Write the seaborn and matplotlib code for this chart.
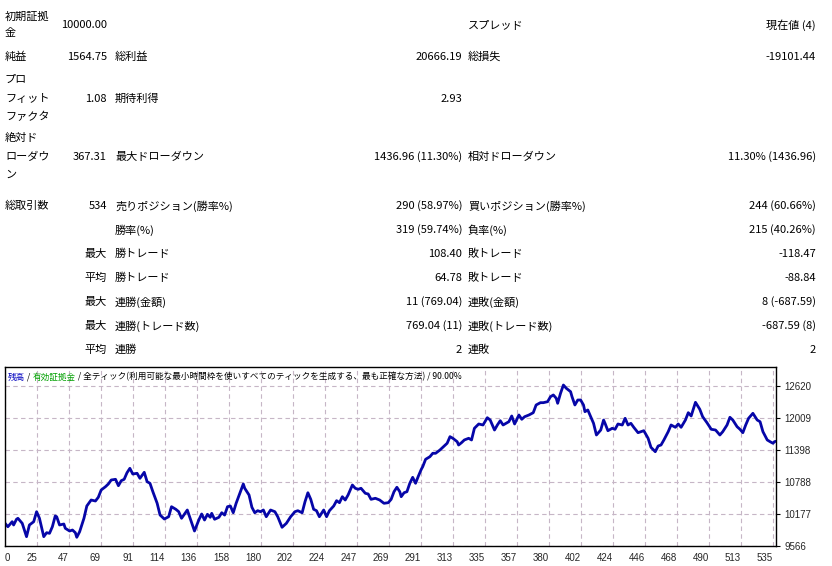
import numpy as np
import pandas as pd
import matplotlib
matplotlib.use('Agg')
import matplotlib.pyplot as plt
import seaborn as sns

sns.set_style('white')
plt.rcParams['font.family'] = ['Noto Sans CJK JP', 'DejaVu Sans']

W, H = 832, 566

# balance curve
trade_no = [0, 2, 5, 6, 8, 9, 12, 15, 17, 20, 22, 24, 27, 29, 31, 33, 35, 36, 38, 41,
            42, 45, 47, 49, 50, 52, 55, 57, 60, 63, 65, 67, 70, 72, 74, 77, 79, 81, 83, 85,
            87, 89, 92, 94, 97, 99, 101, 103, 106, 108, 111, 114, 116, 119, 121, 123, 127, 129, 132, 135,
            137, 139, 141, 143, 144, 146, 149, 151, 153, 155, 157, 159, 161, 164, 166, 167, 170, 172, 174, 176,
            178, 180, 182, 185, 188, 190, 193, 196, 199, 202, 204, 207, 209, 211, 213, 215, 217, 219, 222, 224,
            226, 229, 231, 233, 235, 237, 239, 242, 244, 246, 248, 251, 253, 255, 258, 261, 264, 267, 269, 271,
            273, 275, 276, 278, 280, 282, 284, 286, 288, 290, 291, 293, 296, 298, 300, 303, 305, 308, 310, 312,
            315, 316, 318, 320, 323, 325, 327, 330, 333, 336, 338, 341, 343, 345, 347, 349, 351, 353, 355, 358,
            360, 362, 365, 368, 370, 373, 375, 378, 380, 382, 384, 385, 387, 389, 391, 394, 395, 397, 399, 401,
            403, 404, 406, 408,
            410, 412, 415, 417, 418, 420, 423, 425, 427, 430, 432, 434, 436, 438, 441, 443, 445, 448, 450, 453,
            455, 457, 459, 462, 464, 467, 469, 471, 474, 476, 478, 481, 484, 486, 489, 492, 495, 498, 500, 503,
            505, 507, 510, 512, 514, 516, 518, 521, 524, 526, 528, 531, 533, 535, 536, 537]
balance = [10000, 9934, 10030, 9967, 10076, 10095, 9999, 9744, 9967, 10030, 10221, 10095, 9744, 9820, 9808, 9934, 10139, 10125, 9967, 9986,
           9904, 9852, 9871, 9820, 9732, 9839, 10095, 10330, 10444, 10425, 10496, 10635, 10698, 10750, 10826, 10839, 10717, 10813, 10839, 10965,
           11049, 10940, 10954, 10858, 10973, 10793, 10763, 10603, 10381, 10158, 10081, 10125, 10316, 10267, 10221, 10095, 10253, 10095, 9852, 10062,
           10177, 10062, 10171, 10114, 10190, 10076, 10114, 10201, 10157, 10316, 10330, 10201, 10381, 10603, 10750, 10668, 10540, 10305, 10201, 10240,
           10221, 10253, 10125, 10253, 10221, 10125, 9923, 9999, 10125, 10221, 10240, 10201, 10412, 10583, 10457, 10267, 10240, 10125, 10253, 10125,
           10240, 10330, 10431, 10393, 10507, 10444, 10540, 10730, 10668, 10648, 10668, 10572, 10559, 10457, 10477, 10444, 10381, 10393, 10457, 10603,
           10687, 10603, 10507, 10583, 10603, 10763, 10877, 10763, 10902, 11030, 11080, 11221, 11271, 11336, 11336, 11399, 11451, 11527, 11653, 11622,
           11557, 11494, 11538, 11590, 11622, 11590, 11813, 11895, 11876, 12015, 11971, 11780, 11876, 11958, 11876, 11908, 11939, 12048, 11895, 12067,
           11985, 12034, 12067, 12111, 12258, 12302, 12302, 12321, 12416, 12449, 12386, 12290, 12481, 12639, 12577, 12512, 12416, 12258, 12353, 12353,
           12258, 12130, 12162, 12034,
           11908, 11685, 11780, 11971, 11908, 11767, 11813, 11794, 11895, 11876, 12004, 11876, 11908, 11832, 11729, 11748, 11767, 11622, 11450, 11366,
           11475, 11494, 11590, 11748, 11876, 11832, 11895, 11832, 11971, 12111, 12048, 12309, 12176, 12034, 11920, 11794, 11780, 11685, 11748, 11876,
           12023, 11971, 11843, 11794, 11729, 11876, 12004, 12099, 11971, 11939, 11748, 11590, 11557, 11527, 11557, 11565]

x_labels = ['0', '25', '47', '69', '91', '114', '136', '158', '180', '202', '224', '247', '269',
            '291', '313', '335', '357', '380', '402', '424', '446', '468', '490', '513', '535']
y_ticks = [9566, 10177, 10788, 11398, 12009, 12620]

# report table: (y pixel, text)
col1 = [(17, '初期証拠'), (33, '金'), (57, '純益'), (80, 'プロ'), (99, 'フィット'), (117, 'ファクタ'),
        (138, '絶対ド'), (157, 'ローダウ'), (175, 'ン'), (206, '総取引数')]
col2 = [(25, '10000.00'), (57, '1564.75'), (99, '1.08'), (157, '367.31'), (206, '534'),
        (254, '最大'), (278, '平均'), (302, '最大'), (326, '最大'), (350, '平均')]
col3 = [(57, '総利益'), (99, '期待利得'), (157, '最大ドローダウン'), (206, '売りポジション(勝率%)'),
        (230, '勝率(%)'), (254, '勝トレード'), (278, '勝トレード'), (302, '連勝(金額)'),
        (326, '連勝(トレード数)'), (350, '連勝')]
col4 = [(57, '20666.19'), (99, '2.93'), (157, '1436.96 (11.30%)'), (206, '290 (58.97%)'),
        (230, '319 (59.74%)'), (254, '108.40'), (278, '64.78'), (302, '11 (769.04)'),
        (326, '769.04 (11)'), (350, '2')]
col5 = [(25, 'スプレッド'), (57, '総損失'), (157, '相対ドローダウン'), (206, '買いポジション(勝率%)'),
        (230, '負率(%)'), (254, '敗トレード'), (278, '敗トレード'), (302, '連敗(金額)'),
        (326, '連敗(トレード数)'), (350, '連敗')]
col6 = [(25, '現在値 (4)'), (57, '-19101.44'), (157, '11.30% (1436.96)'), (206, '244 (60.66%)'),
        (230, '215 (40.26%)'), (254, '-118.47'), (278, '-88.84'), (302, '8 (-687.59)'),
        (326, '-687.59 (8)'), (350, '2')]

fig = plt.figure(figsize=(W / 100, H / 100), dpi=100)


def put(x, y, s, ha='left', size=8, color='black'):
    return fig.text(x / W, 1 - y / H, s, ha=ha, va='center', fontsize=size, color=color)


for col, x, ha in [(col1, 5, 'left'), (col2, 107, 'right'), (col3, 115, 'left'),
                   (col4, 462, 'right'), (col5, 468, 'left'), (col6, 816, 'right')]:
    for y, s in col:
        put(x, y, s, ha=ha)

# chart
ax = fig.add_axes([5 / W, (H - 546) / H, 771 / W, 179 / H])
df = pd.DataFrame({'trade': trade_no, 'balance': balance})
sns.lineplot(data=df, x='trade', y='balance', ax=ax, color='#0606a8', linewidth=2.0)

ax.set_xlim(0, 537.1)
ax.set_ylim(9566, 12983)
ax.set_xlabel('')
ax.set_ylabel('')

xpos = np.linspace(0, 535, len(x_labels))
ax.set_xticks(xpos)
ax.set_xticklabels(x_labels, fontsize=7, family='Liberation Sans')
for i, t in enumerate(ax.get_xticklabels()):
    t.set_ha('left' if i == 0 else 'right')
ax.set_yticks(y_ticks)
ax.set_yticklabels([str(v) for v in y_ticks], fontsize=7, family='Liberation Sans')
ax.yaxis.tick_right()
ax.tick_params(axis='both', length=3, width=0.8, color='black', pad=2, direction='out')
ax.tick_params(axis='y', pad=3)

ax.grid(True, color='#c6b6c6', linestyle=(0, (4, 3)), linewidth=0.8)
for sp in ax.spines.values():
    sp.set_visible(True)
    sp.set_color('black')
    sp.set_linewidth(1.0)

# multi-colour caption inside the chart
renderer = fig.canvas.get_renderer()
parts = [('残高', '#0000c0'), (' / ', 'black'), ('有効証拠金', '#00a000'),
         (' / 全ティック(利用可能な最小時間枠を使いすべてのティックを生成する、最も正確な方法) / 90.00%', 'black')]
cx = 8
for s, c in parts:
    t = put(cx, 377, s, size=6.2, color=c)
    bb = t.get_window_extent(renderer=renderer)
    cx += bb.width

fig.savefig('out.png', dpi=100, facecolor='white')
